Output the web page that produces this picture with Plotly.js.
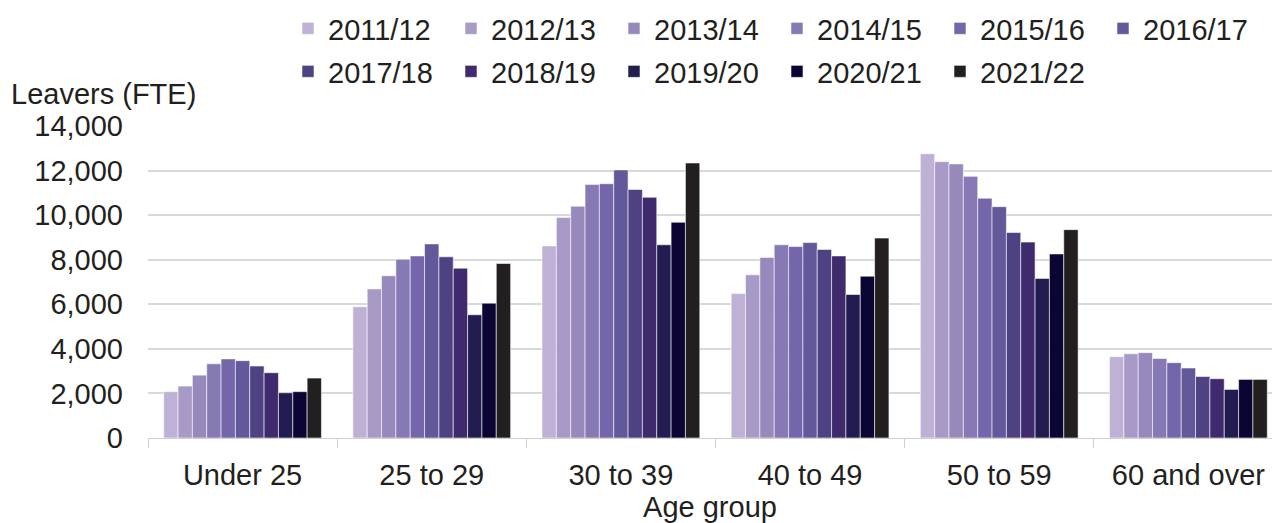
<!DOCTYPE html>
<html>
<head>
<meta charset="utf-8">
<script src="https://cdn.plot.ly/plotly-3.0.1.min.js"></script>
<style>html,body{margin:0;padding:0;background:#fff;}#chart{width:1272px;height:523px;}</style>
</head>
<body>
<div id="chart"></div>
<script>
const categories = ["Under 25", "25 to 29", "30 to 39", "40 to 49", "50 to 59", "60 and over"];
const years = ["2011/12","2012/13","2013/14","2014/15","2015/16","2016/17","2017/18","2018/19","2019/20","2020/21","2021/22"];
const colors = ["#bfb1d5","#a899c7","#9889bd","#8779b4","#7566ab","#63589a","#4f4283","#3f2a6e","#221d51","#0b0533","#231f20"];

const v2011_12 = [2080, 5890, 8620, 6480, 12760, 3650];
const v2012_13 = [2330, 6690, 9890, 7320, 12400, 3780];
const v2013_14 = [2820, 7280, 10400, 8100, 12300, 3830];
const v2014_15 = [3330, 8020, 11380, 8670, 11740, 3570];
const v2015_16 = [3550, 8170, 11410, 8590, 10760, 3380];
const v2016_17 = [3470, 8710, 12030, 8770, 10380, 3140];
const v2017_18 = [3230, 8130, 11150, 8460, 9220, 2760];
const v2018_19 = [2930, 7620, 10800, 8170, 8790, 2660];
const v2019_20 = [2030, 5530, 8670, 6440, 7160, 2180];
const v2020_21 = [2080, 6050, 9680, 7260, 8260, 2630];
const v2021_22 = [2690, 7830, 12340, 8970, 9350, 2630];

const seriesValues = [v2011_12, v2012_13, v2013_14, v2014_15, v2015_16, v2016_17, v2017_18, v2018_19, v2019_20, v2020_21, v2021_22];

const yTickVals = [0, 2000, 4000, 6000, 8000, 10000, 12000, 14000];
const yTickText = ["0", "2,000", "4,000", "6,000", "8,000", "10,000", "12,000", "14,000"];

const textColor = "#231f20";
const fontFamily = "Liberation Sans, Arial, sans-serif";
const fs = 29;

const traces = years.map((y, i) => ({
  type: "bar",
  name: y,
  legend: i < 6 ? "legend" : "legend2",
  x: categories,
  y: seriesValues[i],
  marker: { color: colors[i], line: { color: "rgba(255,255,255,0.55)", width: 1 } },
  hoverinfo: "x+y+name"
}));

const legendBase = {
  orientation: "h",
  xref: "container",
  yref: "container",
  x: 288 / 1272,
  xanchor: "left",
  yanchor: "top",
  font: { family: fontFamily, size: fs, color: textColor },
  entrywidth: 118,
  traceorder: "normal",
  itemclick: false,
  itemdoubleclick: false,
  bgcolor: "rgba(0,0,0,0)"
};

const layout = {
  width: 1272,
  height: 523,
  margin: { l: 148, r: 0, t: 126, b: 85, autoexpand: false },
  paper_bgcolor: "#ffffff",
  plot_bgcolor: "#ffffff",
  font: { family: fontFamily, size: fs, color: textColor },
  barmode: "group",
  bargap: 0.166,
  bargroupgap: 0,
  showlegend: true,
  legend: Object.assign({}, legendBase, { y: 1 - 3 / 523 }),
  legend2: Object.assign({}, legendBase, { y: 1 - 46 / 523 }),
  xaxis: {
    type: "category",
    range: [-0.5, 5.442],
    showgrid: false,
    showline: true,
    linecolor: "#d0d0d0",
    linewidth: 1,
    ticks: "outside",
    tickson: "boundaries",
    ticklen: 9,
    tickcolor: "#d0d0d0",
    ticklabelstandoff: 11,
    tickfont: { family: fontFamily, size: fs, color: textColor },
    title: { text: "Age group", font: { family: fontFamily, size: fs, color: textColor }, standoff: 7 },
    fixedrange: true
  },
  yaxis: {
    range: [0, 14000],
    tickvals: yTickVals,
    ticktext: yTickText,
    showgrid: true,
    gridcolor: "#d9d9d9",
    gridwidth: 1.5,
    zeroline: false,
    showline: false,
    ticks: "",
    ticklabelstandoff: 24,
    tickfont: { family: fontFamily, size: fs, color: textColor },
    fixedrange: true
  },
  annotations: [{
    text: "Leavers (FTE)",
    xref: "paper", yref: "paper",
    x: 0, y: 1, xanchor: "left", yanchor: "bottom",
    xshift: -139, yshift: 14,
    showarrow: false,
    font: { family: fontFamily, size: fs, color: textColor }
  }]
};

Plotly.newPlot("chart", traces, layout, { displayModeBar: false });
</script>
</body>
</html>
